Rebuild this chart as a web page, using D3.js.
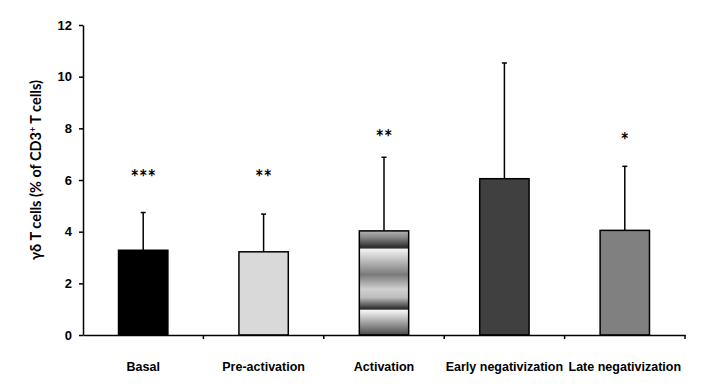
<!DOCTYPE html>
<html>
<head>
<meta charset="utf-8">
<script src="https://cdn.jsdelivr.net/npm/d3@7"></script>
<style>
  body { margin: 0; background: #fff; }
  svg { display: block; font-family: Lato, "Open Sans", sans-serif; font-weight: bold; }
  .axis path, .axis line { stroke: #000; stroke-width: 1.5px; }
  .axis text { font-size: 12.5px; font-weight: bold; fill: #000; }
  .y-axis text { font-size: 13px; }
</style>
</head>
<body>
<svg id="chart"></svg>
<script>
// Data
const categories = ['Basal', 'Pre-activation', 'Activation', 'Early negativization', 'Late negativization'];
const means = [3.28, 3.22, 4.03, 6.05, 4.05];
const errorTops = [4.74, 4.68, 6.88, 10.53, 6.53];
const stars = ['***', '**', '**', '', '*'];
const starLevels = [6.2, 6.2, 7.75, 0, 7.63];
const fills = ['#000000', '#d9d9d9', 'url(#cylinder)', '#404040', '#808080'];
const yTicks = [0, 2, 4, 6, 8, 10, 12];

const config = {
  containerWidth: 720,
  containerHeight: 388,
  margin: {top: 25, right: 35, bottom: 53, left: 83}
};

const width = config.containerWidth - config.margin.left - config.margin.right;
const height = config.containerHeight - config.margin.top - config.margin.bottom;

const svg = d3.select('#chart')
    .attr('width', config.containerWidth)
    .attr('height', config.containerHeight);

// banded gradient used by the "Activation" bar
const grad = svg.append('defs').append('linearGradient')
    .attr('id', 'cylinder')
    .attr('x1', 0).attr('y1', 0).attr('x2', 0).attr('y2', 1);
[[0, '#b4b4b4'], [0.06, '#8a8a8a'], [0.15, '#333333'], [0.165, '#2e2e2e'], [0.175, '#f4f4f4'],
 [0.42, '#7a7a7a'], [0.56, '#d0d0d0'], [0.64, '#bdbdbd'], [0.75, '#2a2a2a'],
 [0.765, '#f6f6f6'], [1, '#4a4a4a']].forEach(s => {
  grad.append('stop').attr('offset', s[0]).attr('stop-color', s[1]);
});

const chart = svg.append('g')
    .attr('transform', `translate(${config.margin.left},${config.margin.top})`);

const xScale = d3.scaleBand()
    .domain(categories)
    .range([0, width])
    .paddingInner(0.59)
    .paddingOuter(0.295);

const yScale = d3.scaleLinear()
    .domain([0, 12])
    .range([height, 0]);

const band = d3.scaleBand().domain(categories).range([0, width]);

const yAxis = d3.axisLeft(yScale)
    .tickValues(yTicks)
    .tickSize(4)
    .tickPadding(7)
    .tickSizeOuter(0);

const xAxis = d3.axisBottom(band)
    .tickSize(0)
    .tickPadding(27)
    .tickSizeOuter(0);

// error bars (drawn first so bars cover the stem)
const err = chart.selectAll('.err')
    .data(categories)
    .join('g')
      .attr('class', 'err')
      .attr('transform', d => `translate(${xScale(d) + xScale.bandwidth() / 2},0)`);

err.append('line')
    .attr('y1', (d, i) => yScale(means[i]))
    .attr('y2', (d, i) => yScale(errorTops[i]))
    .attr('stroke', '#000')
    .attr('stroke-width', 1.5);

err.append('line')
    .attr('x1', -2.5).attr('x2', 2.5)
    .attr('y1', (d, i) => yScale(errorTops[i]))
    .attr('y2', (d, i) => yScale(errorTops[i]))
    .attr('stroke', '#000')
    .attr('stroke-width', 1.5);

chart.selectAll('.bar')
    .data(categories)
    .join('rect')
      .attr('class', 'bar')
      .attr('x', d => xScale(d))
      .attr('width', xScale.bandwidth())
      .attr('y', (d, i) => yScale(means[i]))
      .attr('height', (d, i) => height - yScale(means[i]))
      .attr('fill', (d, i) => fills[i])
      .attr('stroke', '#000')
      .attr('stroke-width', 1.5);

chart.selectAll('.star')
    .data(categories)
    .join('text')
      .attr('class', 'star')
      .attr('x', d => xScale(d) + xScale.bandwidth() / 2)
      .attr('y', (d, i) => yScale(starLevels[i]) + 10)
      .attr('text-anchor', 'middle')
      .style('font-size', '20px')
      .text((d, i) => stars[i]);

chart.append('g')
    .attr('class', 'axis y-axis')
    .call(yAxis);

const xAxisG = chart.append('g')
    .attr('class', 'axis x-axis')
    .attr('transform', `translate(0,${height})`)
    .call(xAxis);

// category separator ticks
xAxisG.selectAll('.sep')
    .data(categories)
    .join('line')
      .attr('class', 'sep')
      .attr('x1', d => band(d) + band.bandwidth())
      .attr('x2', d => band(d) + band.bandwidth())
      .attr('y1', 0)
      .attr('y2', 4);

chart.append('text')
    .attr('transform', `translate(-42,${height / 2 - 10}) rotate(-90)`)
    .attr('text-anchor', 'middle')
    .style('font-size', '14.5px')
    .text('γδ T cells (% of CD3')
    .append('tspan')
      .attr('baseline-shift', 'super')
      .style('font-size', '9px')
      .text('+')
    .select(function() { return this.parentNode; })
    .append('tspan')
      .text(' T cells)');
</script>
</body>
</html>
